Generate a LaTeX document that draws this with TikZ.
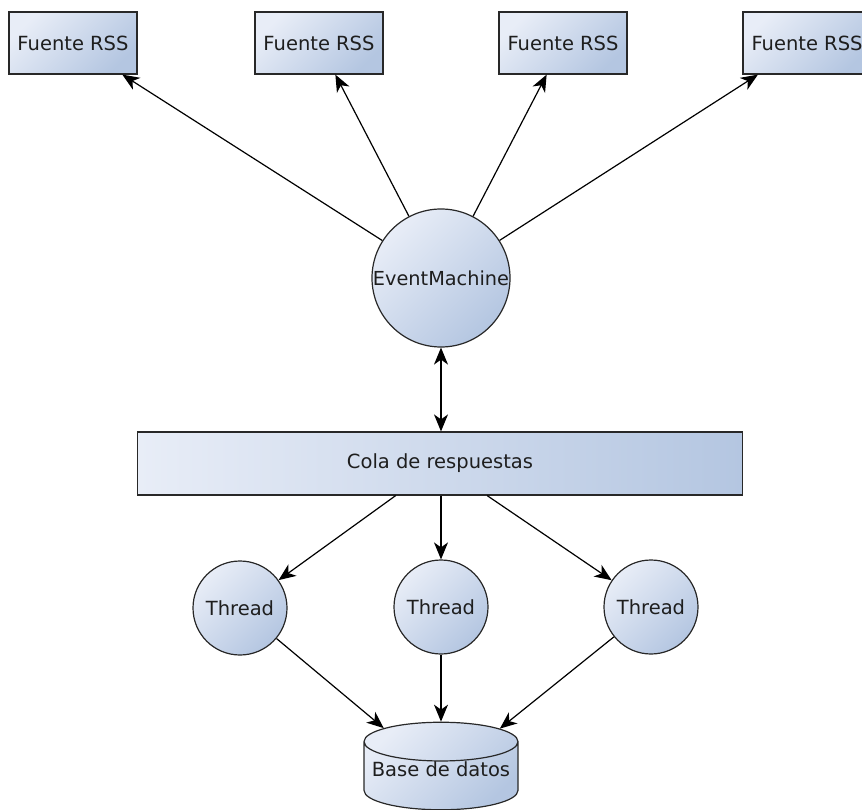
\documentclass[tikz,border=0pt]{standalone}
\usepackage{fontspec}
\setmainfont{DejaVu Sans}
\usetikzlibrary{arrows.meta,shapes.geometric}

\definecolor{filllight}{RGB}{232,237,247}
\definecolor{filldark}{RGB}{180,198,225}
\definecolor{edge}{RGB}{40,40,40}
\definecolor{ink}{RGB}{30,30,30}

\tikzset{
  headtip/.tip={Stealth[length=17pt, width=14pt, inset=5pt]},
  gradfill/.style={top color=filllight, bottom color=filldark, shading angle=45},
  base/.style={draw=edge, line width=1.2pt, text=ink, inner sep=0pt,
    font=\fontsize{19.5}{22}\selectfont},
  feed/.style={base, gradfill, rectangle, minimum width=128pt, minimum height=62pt},
  queuebox/.style={base, rectangle, left color=filllight, right color=filldark,
    minimum width=605pt, minimum height=63pt},
  worker/.style={base, gradfill, circle, minimum size=94pt},
  hub/.style={base, gradfill, circle, minimum size=138pt},
  store/.style={base, gradfill, cylinder, shape border rotate=90, aspect=0.28,
    minimum width=154pt, minimum height=84pt},
  conn/.style={draw=black, line width=1.2pt, -headtip},
  both/.style={draw=black, line width=1.2pt, headtip-headtip}
}

\begin{document}
\begin{tikzpicture}[x=1pt, y=-1pt]
  \useasboundingbox (0,0) rectangle (862,810);

  % RSS sources along the top
  \node[feed] (f1) at (73,43)  {Fuente RSS};
  \node[feed] (f2) at (319,43) {Fuente RSS};
  \node[feed] (f3) at (563,43) {Fuente RSS};
  \node[feed] (f4) at (807,43) {Fuente RSS};

  % reactor loop
  \node[hub, font=\fontsize{19.3}{22}\selectfont] (em) at (441,278) {EventMachine};

  % shared queue
  \node[queuebox] (q) at (440,463.5) {Cola de respuestas};

  % worker threads
  \node[worker] (t1) at (240,608) {Thread};
  \node[worker] (t2) at (441,607) {Thread};
  \node[worker] (t3) at (651,607) {Thread};

  % storage: outline centred on the point, label lifted to the middle of the outline
  \node[store, anchor=shape center] (db) at (441,766) {\raisebox{14pt}{Base de datos}};

  % connections
  \foreach \f in {f1,f2,f3,f4} \draw[conn] (em) -- (\f);
  \draw[both] (em) -- (em |- q.north);
  \draw[conn] (q) -- (t1);
  \draw[conn] (q.south -| t2) -- (t2);
  \draw[conn] (q) -- (t3);
  \draw[conn] (t1) -- (db);
  \draw[conn] (t2) -- (db);
  \draw[conn] (t3) -- (db);
\end{tikzpicture}
\end{document}
